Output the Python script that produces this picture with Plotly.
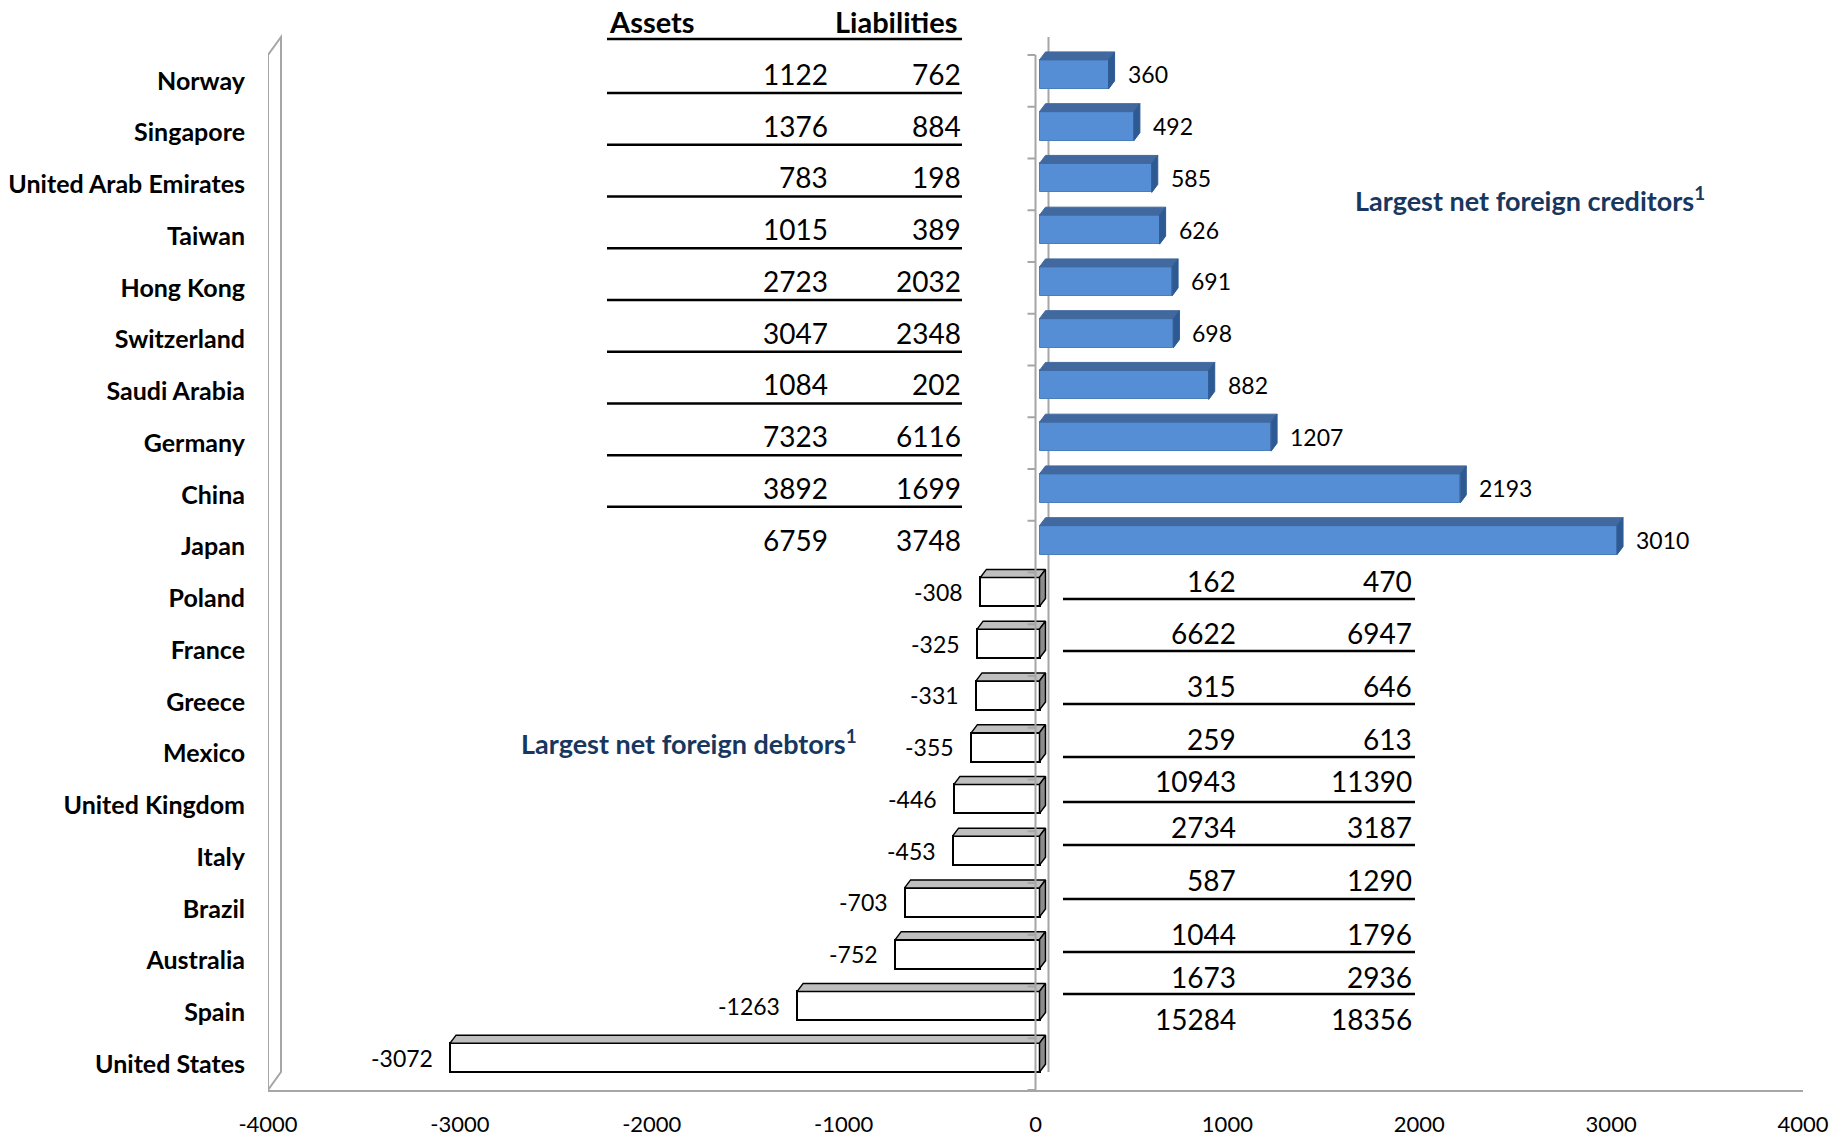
import plotly.graph_objects as go

# ---------------- data ----------------
countries = ["Norway", "Singapore", "United Arab Emirates", "Taiwan", "Hong Kong",
             "Switzerland", "Saudi Arabia", "Germany", "China", "Japan",
             "Poland", "France", "Greece", "Mexico", "United Kingdom",
             "Italy", "Brazil", "Australia", "Spain", "United States"]
net_position = [360, 492, 585, 626, 691, 698, 882, 1207, 2193, 3010,
                -308, -325, -331, -355, -446, -453, -703, -752, -1263, -3072]
assets = [1122, 1376, 783, 1015, 2723, 3047, 1084, 7323, 3892, 6759,
          162, 6622, 315, 259, 10943, 2734, 587, 1044, 1673, 15284]
liabilities = [762, 884, 198, 389, 2032, 2348, 202, 6116, 1699, 3748,
               470, 6947, 646, 613, 11390, 3187, 1290, 1796, 2936, 18356]
x_ticks = [-4000, -3000, -2000, -1000, 0, 1000, 2000, 3000, 4000]
table_headers = ["Assets", "Liabilities"]
creditor_title = "Largest net foreign creditors<sup>1</sup>"
debtor_title = "Largest net foreign debtors<sup>1</sup>"

# ---------------- geometry ----------------
W, H = 1845, 1139
ML, MR, MT, MB = 268, 42, 0, 49
XR = (x_ticks[0], x_ticks[-1])
PPX = (W - ML - MR) / (XR[1] - XR[0])        # px per x unit
PPY = 51.75                                   # px per category
n = len(countries)
idx = list(range(n))
Y_TOP = -0.5 - 55 / PPY
YR = [n - 0.5, Y_TOP]


def px2x(px):
    return XR[0] + (px - ML) / PPX


def px2y(px):
    return Y_TOP + px / PPY


FONT = "Lato, 'Open Sans', sans-serif"
BLUE_FRONT, BLUE_TOP, BLUE_SIDE = "#558ED5", "#41699F", "#2E5A94"
GRAY_TOP, GRAY_SIDE = "#BFBFBF", "#8C8C8C"
AXIS_GRAY = "#A6A6A6"
NAVY = "#17375E"

BAR_W = 0.56
BAR_OFF = -0.405
PROJ = 4 / PPX     # 3-D projection shift of the bar row (mid depth)
DXB = 6 / PPX      # bar depth in x
DYB = 8 / PPY      # bar depth in y
DXW = 13 / PPX     # wall depth
DYW = 18 / PPY

fig = go.Figure()

# front faces
fig.add_trace(go.Bar(
    y=idx, x=net_position, base=PROJ, orientation="h", width=BAR_W, offset=BAR_OFF,
    marker=dict(color=[BLUE_FRONT if v > 0 else "white" for v in net_position],
                line=dict(color=["#4A7EBB" if v > 0 else "black" for v in net_position],
                          width=[1 if v > 0 else 2 for v in net_position])),
    hoverinfo="skip", showlegend=False))


def faces(sign):
    tx, ty, sx, sy = [], [], [], []
    for i, v in zip(idx, net_position):
        if (v > 0) != sign:
            continue
        x0, x1 = min(0, v) + PROJ, max(0, v) + PROJ
        yt = i + BAR_OFF
        yb = yt + BAR_W
        tx += [x0, x1, x1 + DXB, x0 + DXB, x0, None]
        ty += [yt, yt, yt - DYB, yt - DYB, yt, None]
        sx += [x1, x1 + DXB, x1 + DXB, x1, x1, None]
        sy += [yt, yt - DYB, yb - DYB, yb, yt, None]
    return tx, ty, sx, sy


tx, ty, sx, sy = faces(True)
fig.add_trace(go.Scatter(x=tx, y=ty, mode="lines", fill="toself", fillcolor=BLUE_TOP,
                         line=dict(color=BLUE_TOP, width=1), hoverinfo="skip", showlegend=False))
fig.add_trace(go.Scatter(x=sx, y=sy, mode="lines", fill="toself", fillcolor=BLUE_SIDE,
                         line=dict(color=BLUE_SIDE, width=1), hoverinfo="skip", showlegend=False))
tx, ty, sx, sy = faces(False)
fig.add_trace(go.Scatter(x=tx, y=ty, mode="lines", fill="toself", fillcolor=GRAY_TOP,
                         line=dict(color="black", width=1.5), hoverinfo="skip", showlegend=False))
fig.add_trace(go.Scatter(x=sx, y=sy, mode="lines", fill="toself", fillcolor=GRAY_SIDE,
                         line=dict(color="black", width=1.5), hoverinfo="skip", showlegend=False))

shapes = []
# left wall
xl = XR[0]
shapes.append(dict(type="path", xref="x", yref="y", layer="below",
                   path=f"M {xl},{n-0.5} L {xl},-0.5 L {xl+DXW},{-0.5-DYW} L {xl+DXW},{n-0.5-DYW} Z",
                   line=dict(color=AXIS_GRAY, width=2), fillcolor="white"))
# back zero line
shapes.append(dict(type="line", xref="x", yref="y", layer="below",
                   x0=DXW, x1=DXW, y0=-0.5 - DYW, y1=n - 0.5 - DYW,
                   line=dict(color=AXIS_GRAY, width=2)))
# front zero (category) axis
shapes.append(dict(type="line", xref="x", yref="y", layer="above",
                   x0=0, x1=0, y0=-0.5, y1=n - 0.5,
                   line=dict(color=AXIS_GRAY, width=2)))
for i in range(n + 1):
    shapes.append(dict(type="line", xref="x", yref="y", layer="above",
                       xsizemode="pixel", xanchor=0, x0=-8, x1=0,
                       y0=i - 0.5, y1=i - 0.5, line=dict(color=AXIS_GRAY, width=2)))

annotations = []
# value labels
for i, v in zip(idx, net_position):
    annotations.append(dict(x=v + PROJ, y=i + BAR_OFF + BAR_W / 2, xref="x", yref="y",
                            text=str(v), showarrow=False,
                            xanchor="left" if v > 0 else "right",
                            xshift=17 if v > 0 else -15,
                            font=dict(family=FONT, size=23, color="black")))

# upper table (creditors)
UA_R, UL_R, UL0, UL1 = px2x(830), px2x(963), px2x(607), px2x(962)
annotations.append(dict(x=px2x(607), y=px2y(21), xref="x", yref="y", text=table_headers[0],
                        showarrow=False, xanchor="left",
                        font=dict(family=FONT, size=29, color="black", weight="bold")))
annotations.append(dict(x=px2x(959), y=px2y(21), xref="x", yref="y", text=table_headers[1],
                        showarrow=False, xanchor="right",
                        font=dict(family=FONT, size=29, color="black", weight="bold")))
shapes.append(dict(type="line", xref="x", yref="y", x0=UL0, x1=UL1, y0=px2y(39), y1=px2y(39),
                   line=dict(color="black", width=2.5)))
creditors = [i for i, v in zip(idx, net_position) if v > 0]
for k, i in enumerate(creditors):
    for col, xr_ in ((assets, UA_R), (liabilities, UL_R)):
        annotations.append(dict(x=xr_, y=i - 7 / PPY, xref="x", yref="y", text=str(col[i]),
                                showarrow=False, xanchor="right",
                                font=dict(family=FONT, size=28, color="black")))
    if k < len(creditors) - 1:
        shapes.append(dict(type="line", xref="x", yref="y", x0=UL0, x1=UL1,
                           y0=i + 12 / PPY, y1=i + 12 / PPY,
                           line=dict(color="black", width=2.5)))

# lower table (debtors) - pasted table with its own row spacing (px)
LA_R, LL_R, LL0, LL1 = px2x(1238), px2x(1414), px2x(1063), px2x(1415)
row_text_px = [581, 633, 686, 739, 781, 827, 880, 934, 977, 1019]
row_line_px = [599, 651, 704, 757, 802, 845, 899, 952, 994]
debtors = [i for i, v in zip(idx, net_position) if v < 0]
for k, i in enumerate(debtors):
    for col, xr_ in ((assets, LA_R), (liabilities, LL_R)):
        annotations.append(dict(x=xr_, y=px2y(row_text_px[k]), xref="x", yref="y",
                                text=str(col[i]), showarrow=False, xanchor="right",
                                font=dict(family=FONT, size=28, color="black")))
    if k < len(row_line_px):
        yl = px2y(row_line_px[k])
        shapes.append(dict(type="line", xref="x", yref="y", x0=LL0, x1=LL1, y0=yl, y1=yl,
                           line=dict(color="black", width=2.5)))

# group titles
annotations.append(dict(x=px2x(1353), y=px2y(199), xref="x", yref="y", text=creditor_title,
                        showarrow=False, xanchor="left",
                        font=dict(family=FONT, size=27, color=NAVY, weight="bold")))
annotations.append(dict(x=px2x(519), y=px2y(742), xref="x", yref="y", text=debtor_title,
                        showarrow=False, xanchor="left",
                        font=dict(family=FONT, size=27, color=NAVY, weight="bold")))

fig.update_layout(
    width=W, height=H, margin=dict(l=ML, r=MR, t=MT, b=MB, autoexpand=False),
    plot_bgcolor="white", paper_bgcolor="white", showlegend=False,
    shapes=shapes, annotations=annotations, bargap=0,
    xaxis=dict(range=list(XR), tickvals=x_ticks, ticktext=[str(t) for t in x_ticks],
               showgrid=False, zeroline=False, showline=True, linecolor=AXIS_GRAY,
               linewidth=2, ticks="", ticklabelstandoff=14,
               tickfont=dict(family=FONT, size=22, color="black")),
    yaxis=dict(range=YR, tickvals=idx, ticktext=countries, showgrid=False,
               zeroline=False, showline=False, ticks="", ticklabelstandoff=22,
               tickfont=dict(family=FONT, size=25, color="black", weight="bold")),
)

fig.write_html("out.html")
